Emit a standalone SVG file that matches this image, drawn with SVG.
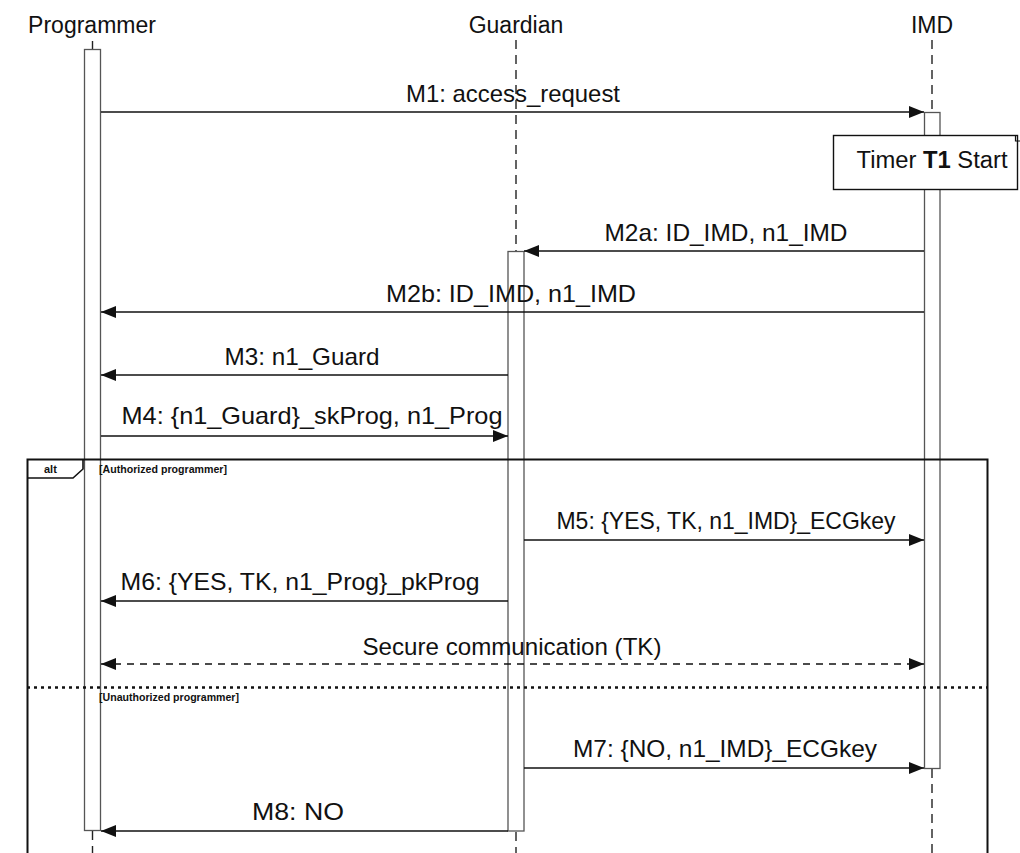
<svg xmlns="http://www.w3.org/2000/svg" width="1020" height="853" viewBox="0 0 1020 853">
<style>
text{font-family:"Liberation Sans",Arial,sans-serif;fill:#111}
.hdr{font-size:23px;text-anchor:middle}
.lbl{font-size:24px;text-anchor:middle}
.life{stroke:#222;stroke-width:1.4;stroke-dasharray:9 6;fill:none}
.act{fill:#fff;stroke:#555;stroke-width:1.3}
.msg{stroke:#111;stroke-width:1.4;fill:none}
.dmsg{stroke:#111;stroke-width:1.4;fill:none;stroke-dasharray:7 6}
.small{font-size:11px;font-weight:bold}
</style>
<defs>
<marker id="ah" markerWidth="16" markerHeight="12" refX="15" refY="6" orient="auto" markerUnits="userSpaceOnUse">
<path d="M0,0 L15,6 L0,12 z" fill="#111"/>
</marker>
<marker id="ahs" markerWidth="16" markerHeight="12" refX="1" refY="6" orient="auto" markerUnits="userSpaceOnUse">
<path d="M16,0 L1,6 L16,12 z" fill="#111"/>
</marker>
</defs>
<rect width="1020" height="853" fill="#fff"/>

<g id="programmer">
<text class="hdr" x="92" y="33">Programmer</text>
<line class="life" x1="92.5" y1="41" x2="92.5" y2="49"/>
<line class="life" x1="92.5" y1="831" x2="92.5" y2="853"/>
<rect class="act" x="84.5" y="49.5" width="16" height="781"/>
</g>

<g id="guardian">
<text class="hdr" x="516" y="33">Guardian</text>
<line class="life" x1="516" y1="40" x2="516" y2="251"/>
<line class="life" x1="516" y1="832" x2="516" y2="853"/>
<rect class="act" x="508" y="251.5" width="16" height="579.5" stroke="#999"/>
</g>

<g id="imd">
<text class="hdr" x="932" y="33">IMD</text>
<line class="life" x1="932" y1="40" x2="932" y2="112"/>
<line class="life" x1="932" y1="769" x2="932" y2="853"/>
<rect class="act" x="924.5" y="112.5" width="15.5" height="656"/>
</g>

<g id="alt-frame">
<path d="M27.5,853 L27.5,459.5 L987.5,459.5 L987.5,853" fill="none" stroke="#111" stroke-width="2"/>
<path d="M27.5,478 L73,478 L83,469 L83,459.5" fill="none" stroke="#111" stroke-width="1.6"/>
<text class="small" x="44" y="473" font-size="9.5">alt</text>
<text class="small" x="99" y="473" textLength="128" lengthAdjust="spacingAndGlyphs">[Authorized programmer]</text>
<line x1="27" y1="687.5" x2="987" y2="687.5" stroke="#111" stroke-width="2.5" stroke-dasharray="3 4"/>
<text class="small" x="99" y="701" textLength="140" lengthAdjust="spacingAndGlyphs">[Unauthorized programmer]</text>
</g>

<g id="timer-note">
<rect x="833.5" y="135.5" width="184" height="54" fill="#fff" stroke="#111" stroke-width="1.4"/>
<path d="M1015.5,135.5 L1015.5,141 L1020,141" fill="none" stroke="#111" stroke-width="1.2"/>
<text x="932" y="168" font-size="23" text-anchor="middle" textLength="151" lengthAdjust="spacingAndGlyphs">Timer <tspan font-weight="bold">T1</tspan> Start</text>
</g>

<g id="connectors">
<line class="msg" x1="101" y1="112" x2="924" y2="112" marker-end="url(#ah)"/>
<text class="lbl" x="513" y="102" textLength="214" lengthAdjust="spacingAndGlyphs">M1: access_request</text>

<line class="msg" x1="924" y1="251" x2="524" y2="251" marker-end="url(#ah)"/>
<text class="lbl" x="726" y="241" textLength="243" lengthAdjust="spacingAndGlyphs">M2a: ID_IMD, n1_IMD</text>

<line class="msg" x1="924" y1="312" x2="101" y2="312" marker-end="url(#ah)"/>
<text class="lbl" x="511" y="302" textLength="250" lengthAdjust="spacingAndGlyphs">M2b: ID_IMD, n1_IMD</text>

<line class="msg" x1="508" y1="375" x2="101" y2="375" marker-end="url(#ah)"/>
<text class="lbl" x="302" y="365" textLength="155" lengthAdjust="spacingAndGlyphs">M3: n1_Guard</text>

<line class="msg" x1="101" y1="436" x2="508" y2="436" marker-end="url(#ah)"/>
<text class="lbl" x="312" y="424" textLength="381" lengthAdjust="spacingAndGlyphs">M4: {n1_Guard}_skProg, n1_Prog</text>

<line class="msg" x1="524" y1="540" x2="924" y2="540" marker-end="url(#ah)"/>
<text class="lbl" x="726" y="529" textLength="339" lengthAdjust="spacingAndGlyphs">M5: {YES, TK, n1_IMD}_ECGkey</text>

<line class="msg" x1="508" y1="601" x2="101" y2="601" marker-end="url(#ah)"/>
<text class="lbl" x="300" y="590" textLength="359" lengthAdjust="spacingAndGlyphs">M6: {YES, TK, n1_Prog}_pkProg</text>

<line class="dmsg" x1="101" y1="664" x2="924" y2="664" marker-start="url(#ahs)" marker-end="url(#ah)"/>
<text class="lbl" x="512" y="655" textLength="299" lengthAdjust="spacingAndGlyphs">Secure communication (TK)</text>

<line class="msg" x1="524" y1="768" x2="924" y2="768" marker-end="url(#ah)"/>
<text class="lbl" x="725" y="757" textLength="304" lengthAdjust="spacingAndGlyphs">M7: {NO, n1_IMD}_ECGkey</text>

<line class="msg" x1="508" y1="831" x2="101" y2="831" marker-end="url(#ah)"/>
<text class="lbl" x="298" y="820" textLength="92" lengthAdjust="spacingAndGlyphs">M8: NO</text>
</g>
</svg>
